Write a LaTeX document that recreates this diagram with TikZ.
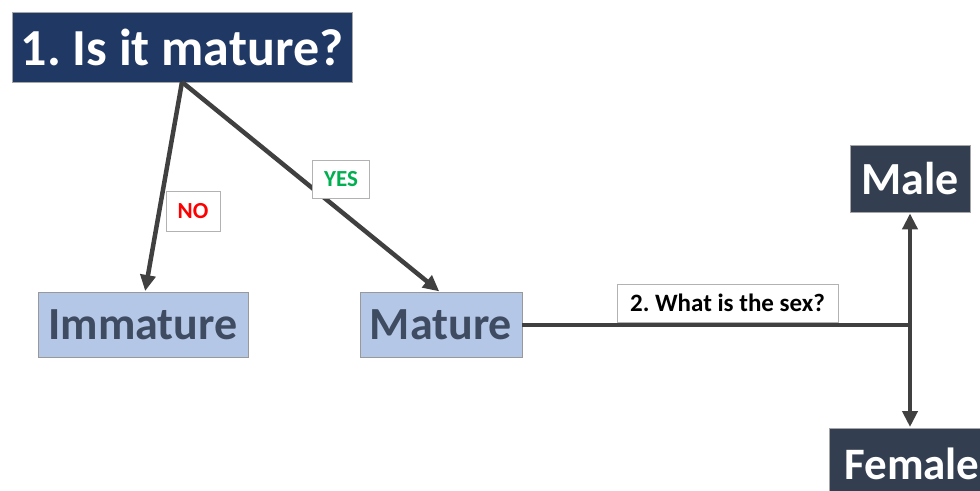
\documentclass[tikz,border=0pt]{standalone}
\usepackage{fontspec}
\setmainfont{Carlito}
\frenchspacing
\usetikzlibrary{arrows.meta}
\definecolor{navy}{HTML}{203864}
\definecolor{slate}{HTML}{333F50}
\definecolor{lightblue}{HTML}{B4C7E7}
\definecolor{bluetext}{HTML}{3E4B60}
\definecolor{conn}{HTML}{404040}
\definecolor{yesgreen}{HTML}{00B050}
\tikzset{
  darkbox/.style={draw=gray!70, line width=0.8pt, fill=#1, text=white, font=\bfseries, inner sep=0pt, align=center},
  lightbox/.style={draw=gray!80, line width=0.8pt, fill=lightblue, text=bluetext, font=\bfseries\fontsize{46}{48}\selectfont, inner sep=0pt, align=center},
  tag/.style={draw=gray!60, line width=0.8pt, fill=white, font=\bfseries, inner sep=0pt},
  link/.style={draw=conn, line width=4.5pt},
  arr/.style={link, -{Triangle[length=16pt,width=15pt]}, shorten >=1pt}
}
\begin{document}
\begin{tikzpicture}[x=1pt,y=-1pt]
\useasboundingbox (0,0) rectangle (980,490);
\clip (0,0) rectangle (980,490);
\node[darkbox=navy, minimum width=340pt, minimum height=70pt, font=\bfseries\fontsize{52}{54}\selectfont] (q1) at (182,47) {1. Is it mature?};
\node[lightbox, minimum width=210pt, minimum height=65pt] (imm) at (143,325) {Immature};
\node[lightbox, minimum width=162pt, minimum height=65pt] (mat) at (441,325) {Mature};
\node[darkbox=slate, minimum width=120pt, minimum height=67pt, font=\bfseries\fontsize{46}{48}\selectfont] (male) at (910,178.5) {Male};
\node[darkbox=slate, minimum width=160pt, minimum height=70pt, anchor=north west, font=\bfseries\fontsize{45}{47}\selectfont, text width=150pt, align=left] (fem) at (829,428) {\hspace*{10pt}Female};
\coordinate (top) at (182,82);
\coordinate (j) at (910,325);
\draw[arr] (top) -- (145,292);
\draw[arr] (top) -- (440,292);
\draw[link] (mat.east) -- (j);
\draw[arr] (j) -- (male.south);
\draw[arr] (j) -- (fem.north -| j);
\node[tag, minimum width=54pt, minimum height=40pt, text=red, font=\bfseries\fontsize{23}{25}\selectfont] (no) at (193,211) {NO};
\node[tag, minimum width=57pt, minimum height=38pt, text=yesgreen, font=\bfseries\fontsize{23}{25}\selectfont] (yes) at (341,179) {YES};
\node[tag, minimum width=221pt, minimum height=38pt, text=black, font=\bfseries\fontsize{25}{27}\selectfont] (sex) at (727.5,303) {2. What is the sex?};
\end{tikzpicture}
\end{document}
